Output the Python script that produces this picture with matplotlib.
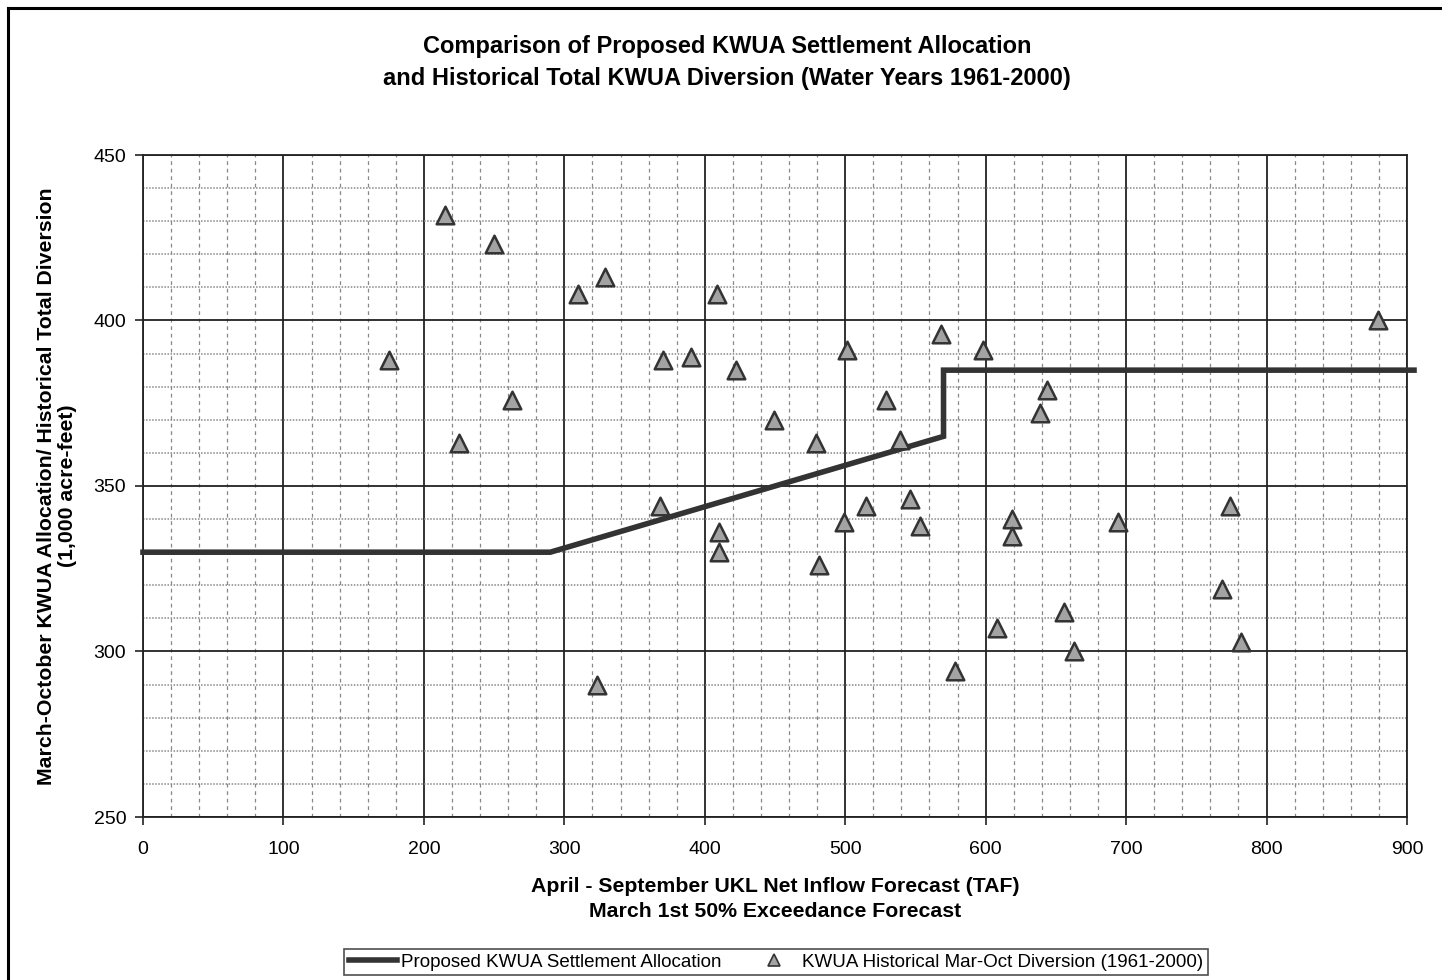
import matplotlib
matplotlib.use("Agg")
import matplotlib.pyplot as plt
from matplotlib.lines import Line2D
from matplotlib.ticker import MultipleLocator

# Proposed allocation line
alloc_x = [0, 290, 570, 570, 905]
alloc_y = [330, 330, 365, 385, 385]

# Historical diversion points (1961-2000)
hist_x = [175, 215, 225, 250, 263, 310, 329, 323, 370, 368,
          390, 409, 410, 410, 422, 449, 479, 481, 501, 499,
          515, 529, 539, 546, 553, 568, 578, 598, 608, 619,
          619, 639, 644, 656, 663, 694, 768, 774, 782, 879]
hist_y = [388, 432, 363, 423, 376, 408, 413, 290, 388, 344,
          389, 408, 336, 330, 385, 370, 363, 326, 391, 339,
          344, 376, 364, 346, 338, 396, 294, 391, 307, 340,
          335, 372, 379, 312, 300, 339, 319, 344, 303, 400]

xticks = [0, 100, 200, 300, 400, 500, 600, 700, 800, 900]
yticks = [250, 300, 350, 400, 450]

plt.rcParams['font.family'] = ['Liberation Sans', 'DejaVu Sans']

fig = plt.figure(figsize=(14.42, 9.8), dpi=100)
ax = fig.add_axes([143/1442, 1-817/980, (1407-143)/1442, (817-155)/980])

ax.set_xlim(0, 900)
ax.set_ylim(250, 450)
ax.set_xticks(xticks)
ax.set_yticks(yticks)
ax.xaxis.set_minor_locator(MultipleLocator(20))
ax.yaxis.set_minor_locator(MultipleLocator(10))

ax.grid(which='minor', axis='x', color='#888888', linestyle=(0, (3, 3)), linewidth=0.9)
ax.grid(which='minor', axis='y', color='#888888', linestyle=(0, (1, 1)), linewidth=1.1)
ax.grid(which='major', color='#222222', linestyle='-', linewidth=1.3)
ax.set_axisbelow(True)

for s in ax.spines.values():
    s.set_color('#222222')
    s.set_linewidth(1.3)

ax.tick_params(which='major', length=6, width=1.2, color='#222222', labelsize=14)
ax.tick_params(axis='y', which='major', pad=6)
ax.tick_params(axis='x', which='major', pad=11)
ax.tick_params(which='minor', length=0)

ax.plot(alloc_x, alloc_y, color='#333333', linewidth=4, solid_joinstyle='miter',
        clip_on=False, zorder=3, label='Proposed KWUA Settlement Allocation')
ax.scatter(hist_x, hist_y, marker='^', s=160, facecolor='#a3a3a3', edgecolor='#333333',
           linewidths=1.8, zorder=4, label='KWUA Historical Mar-Oct Diversion (1961-2000)')

fig.text(727/1442, 1-47/980, 'Comparison of Proposed KWUA Settlement Allocation',
         ha='center', va='center', fontsize=17, fontweight='bold')
fig.text(727/1442, 1-78/980, 'and Historical Total KWUA Diversion (Water Years 1961-2000)',
         ha='center', va='center', fontsize=17, fontweight='bold')

ax.set_xlabel('April - September UKL Net Inflow Forecast (TAF)\nMarch 1st 50% Exceedance Forecast',
              fontsize=15.3, fontweight='bold', labelpad=14, linespacing=1.4)
ax.set_ylabel('March-October KWUA Allocation/ Historical Total Diversion\n(1,000 acre-feet)',
              fontsize=15.3, fontweight='bold', labelpad=12, linespacing=1.1)

handles = [Line2D([0], [0], color='#333333', linewidth=4),
           Line2D([0], [0], marker='^', linestyle='none', markersize=9,
                  markerfacecolor='#a3a3a3', markeredgecolor='#333333', markeredgewidth=1.2)]
labels = ['Proposed KWUA Settlement Allocation', 'KWUA Historical Mar-Oct Diversion (1961-2000)']
leg = fig.legend(handles, labels, loc='center', bbox_to_anchor=(776/1442, 1-962/980), ncol=2,
                 frameon=True, fancybox=False, edgecolor='#222222', fontsize=13.5,
                 handlelength=2.6, handletextpad=0.2, columnspacing=1.5, borderpad=0.25)
leg.get_frame().set_linewidth(1.2)

# outer border (left and top)
fig.add_artist(Line2D([8/1442, 8/1442], [0, 1-8/980], transform=fig.transFigure, color='black', linewidth=2.2))
fig.add_artist(Line2D([8/1442, 1], [1-8/980, 1-8/980], transform=fig.transFigure, color='black', linewidth=2.2))

fig.savefig('out.png', dpi=100)
